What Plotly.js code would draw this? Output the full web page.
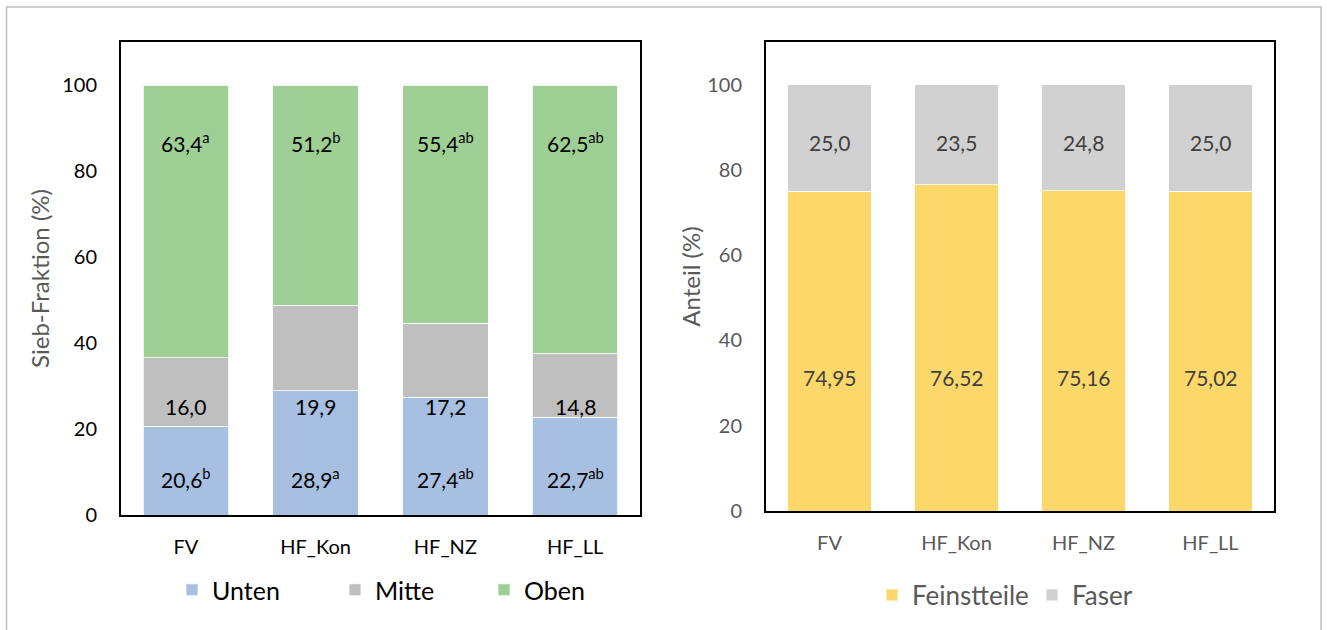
<!DOCTYPE html>
<html>
<head>
<meta charset="utf-8">
<script src="https://cdn.plot.ly/plotly-3.0.1.min.js"></script>
<style>html,body{margin:0;padding:0;background:#fff;}#chart{width:1327px;height:630px;}</style>
</head>
<body>
<div id="chart"></div>
<script>
// ---- data ----
var categories = ['FV', 'HF_Kon', 'HF_NZ', 'HF_LL'];
var unten = [20.6, 28.9, 27.4, 22.7];
var untenSig = ['b', 'a', 'ab', 'ab'];
var mitte = [16.0, 19.9, 17.2, 14.8];
var oben = [63.4, 51.2, 55.4, 62.5];
var obenSig = ['a', 'b', 'ab', 'ab'];
var feinstteile = [74.95, 76.52, 75.16, 75.02];
var faser = [25.0, 23.5, 24.8, 25.0];
var yTicks = [0, 20, 40, 60, 80, 100];

// ---- styling ----
var W = 1327, H = 630;
var FONT = 'Lato, "Open Sans", sans-serif';
var GRAY_TXT = '#595959';
function px(x) { return x / W; }
function py(y) { return 1 - y / H; }
function fmt(v, d) { return v.toFixed(d).replace('.', ','); }

var lineW = 0.8;
var traces = [
  {type:'bar', name:'Unten', x:categories, y:unten, xaxis:'x', yaxis:'y', legend:'legend', legendwidth:118,
   marker:{color:'#A7BFE1', line:{color:'#ffffff', width:lineW}}, hoverinfo:'y+name'},
  {type:'bar', name:'Mitte', x:categories, y:mitte, xaxis:'x', yaxis:'y', legend:'legend', legendwidth:104,
   marker:{color:'#BFBFC0', line:{color:'#ffffff', width:lineW}}, hoverinfo:'y+name'},
  {type:'bar', name:'Oben', x:categories, y:oben, xaxis:'x', yaxis:'y', legend:'legend', legendwidth:80,
   marker:{color:'#9ECF94', line:{color:'#ffffff', width:lineW}}, hoverinfo:'y+name'},
  {type:'bar', name:'Feinstteile', x:categories, y:feinstteile, xaxis:'x2', yaxis:'y2', legend:'legend2', legendwidth:115,
   marker:{color:'#FCD76A', line:{color:'#ffffff', width:lineW}}, hoverinfo:'y+name'},
  {type:'bar', name:'Faser', x:categories, y:faser, xaxis:'x2', yaxis:'y2', legend:'legend2', legendwidth:70,
   marker:{color:'#D0D1D0', line:{color:'#ffffff', width:lineW}}, hoverinfo:'y+name'}
];

// label levels (style: where the data labels sit on the bars)
var LBL = 21;
var annotations = [];
categories.forEach(function(c, i) {
  annotations.push({xref:'x', yref:'y', x:c, y:8.5, text:fmt(unten[i],1)+'<sup>'+untenSig[i]+'</sup>', showarrow:false, font:{family:FONT, size:LBL, color:'#000'}});
  annotations.push({xref:'x', yref:'y', x:c, y:25.3, text:fmt(mitte[i],1), showarrow:false, font:{family:FONT, size:LBL, color:'#000'}});
  annotations.push({xref:'x', yref:'y', x:c, y:86.8, text:fmt(oben[i],1)+'<sup>'+obenSig[i]+'</sup>', showarrow:false, font:{family:FONT, size:LBL, color:'#000'}});
  annotations.push({xref:'x2', yref:'y2', x:c, y:31.4, text:fmt(feinstteile[i],2), showarrow:false, font:{family:FONT, size:LBL, color:'#404040'}});
  annotations.push({xref:'x2', yref:'y2', x:c, y:86.4, text:fmt(faser[i],1), showarrow:false, font:{family:FONT, size:LBL, color:'#404040'}});
});

function yax(domain, col, title, anchor, standoff) {
  return {domain:domain, anchor:anchor, range:[0,110], tickvals:yTicks, ticktext:yTicks.map(String), showgrid:false, zeroline:false,
    showline:true, mirror:true, linecolor:'#000', linewidth:2, ticks:'', ticklabelstandoff:18,
    tickfont:{family:FONT, size:20, color:col}, fixedrange:true,
    title:{text:title, font:{family:FONT, size:24, color:GRAY_TXT}, standoff:standoff}};
}
function xax(domain, col, anchor, standoff) {
  return {domain:domain, anchor:anchor, showgrid:false, zeroline:false, showline:true, mirror:true, linecolor:'#000', linewidth:2,
    ticks:'', ticklabelstandoff:standoff, tickfont:{family:FONT, size:20, color:col}, fixedrange:true};
}

var layout = {
  width:W, height:H, margin:{l:0, r:0, t:0, b:0}, paper_bgcolor:'#fff', plot_bgcolor:'#fff',
  barmode:'stack', bargap:0.34, separators:',.', showlegend:true,
  font:{family:FONT},
  xaxis: xax([px(121), px(640)], '#000', 'y', 13),
  yaxis: yax([py(515), py(42)], '#000', 'Sieb-Fraktion (%)', 'x', 6),
  xaxis2: xax([px(766), px(1274)], GRAY_TXT, 'y2', 13),
  yaxis2: yax([py(511), py(42)], GRAY_TXT, 'Anteil (%)', 'x2', 0),
  legend:{orientation:'h', x:px(172), xanchor:'left', y:py(590), yanchor:'middle', font:{family:FONT, size:25, color:'#000'},
    bgcolor:'rgba(0,0,0,0)', traceorder:'normal'},
  legend2:{orientation:'h', x:px(872), xanchor:'left', y:py(595), yanchor:'middle', font:{family:FONT, size:26, color:GRAY_TXT},
    bgcolor:'rgba(0,0,0,0)', traceorder:'normal'},
  annotations: annotations,
  shapes:[{type:'rect', xref:'paper', yref:'paper', x0:px(6.5), x1:px(1321), y0:-0.02, y1:py(7), line:{color:'#BFBFBF', width:1.5}, fillcolor:'rgba(0,0,0,0)', layer:'below'}]
};

Plotly.newPlot('chart', traces, layout, {displayModeBar:false});
</script>
</body>
</html>
